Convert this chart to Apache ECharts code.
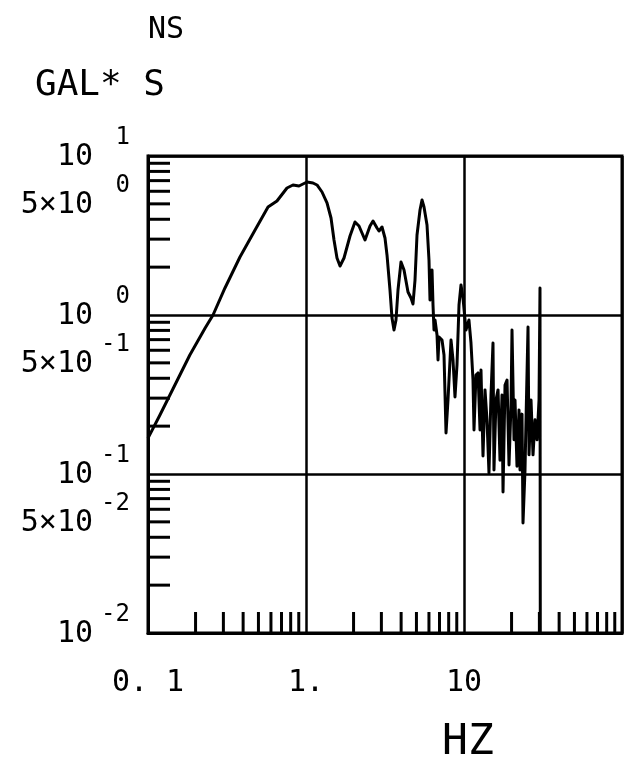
<!DOCTYPE html>
<html>
<head>
<meta charset="utf-8">
<script src="https://cdn.jsdelivr.net/npm/echarts@6/dist/echarts.min.js"></script>
<style>
  html, body { margin: 0; padding: 0; background: #fff; }
  #chart { width: 628px; height: 764px; }
</style>
</head>
<body>
<div id="chart"></div>
<script>
// Fourier amplitude spectrum, NS component (gal*s vs Hz)
const freqHz = [
  0.1, 0.119, 0.148, 0.184, 0.230, 0.258, 0.307, 0.382, 0.476, 0.575,
  0.655, 0.758, 0.827, 0.903, 0.957, 1.015, 1.107, 1.174, 1.263, 1.358,
  1.440, 1.504, 1.571, 1.642, 1.740, 1.899, 2.042, 2.165, 2.363, 2.542,
  2.656, 2.815, 2.897, 3.027, 3.162, 3.256, 3.401, 3.502, 3.606, 3.712,
  3.822, 3.993, 4.172, 4.422, 4.620, 4.756, 4.897, 5.042, 5.267, 5.423,
  5.583, 5.833, 6.004, 6.092, 6.181, 6.275, 6.366, 6.460, 6.555, 6.749,
  6.848, 6.949, 7.258, 7.473, 7.694, 7.920, 8.276, 8.521, 8.770, 9.030,
  9.298, 9.572, 9.856, 10.29, 10.75, 11.07, 11.40, 11.57, 11.91, 12.27,
  12.63, 12.81, 13.19, 13.58, 13.98, 14.39, 14.82, 15.26, 15.48, 15.94,
  16.42, 16.90, 17.40, 17.66, 18.18, 18.72, 19.27, 19.84, 20.13, 20.73,
  21.03, 21.65, 22.29, 22.62, 23.29, 23.63, 24.33, 24.69, 25.42, 25.79,
  26.56, 27.34, 28.15, 28.98, 29.84, 30.27, 30.40
];
const amplitude = [
  0.168, 0.235, 0.363, 0.560, 0.828, 1.0, 1.479, 2.316, 3.424, 4.778,
  5.212, 6.292, 6.572, 6.477, 6.668, 6.864, 6.765, 6.572, 5.937, 5.064,
  4.074, 2.963, 2.283, 2.033, 2.283, 3.139, 3.845, 3.629, 2.963, 3.629,
  3.901, 3.526, 3.376, 3.576, 3.050, 2.385, 1.436, 0.957, 0.805, 0.930,
  1.436, 2.154, 1.919, 1.395, 1.279, 1.173, 1.660, 3.185, 4.575, 5.288,
  4.778, 3.681, 2.218, 1.243, 1.436, 1.919, 1.156, 0.805, 0.930, 0.749,
  0.521, 0.727, 0.696, 0.560, 0.181, 0.292, 0.696, 0.521, 0.305, 0.485,
  1.156, 1.544, 1.279, 0.805, 0.930, 0.667, 0.390, 0.189, 0.419, 0.432,
  0.189, 0.451, 0.130, 0.338, 0.219, 0.1015, 0.314, 0.667, 0.106, 0.292,
  0.338, 0.122, 0.314, 0.077, 0.363, 0.390, 0.114, 0.272, 0.805, 0.164,
  0.292, 0.112, 0.253, 0.106, 0.238, 0.0492, 0.106, 0.219, 0.840, 0.132,
  0.292, 0.132, 0.219, 0.164, 0.292, 1.479, 0.01
];

// Minor tick positions (inside the frame)
const xMinorTicks = [0.2, 0.3, 0.4, 0.5, 0.6, 0.7, 0.8, 0.9,
                     2, 3, 4, 5, 6, 7, 8, 9,
                     20, 30, 40, 50, 60, 70, 80, 90];
const yMinorTicks = [0.02, 0.03, 0.04, 0.05, 0.06, 0.07, 0.08, 0.09,
                     0.2, 0.3, 0.4, 0.5, 0.6, 0.7, 0.8, 0.9,
                     2, 3, 4, 5, 6, 7, 8, 9];

// Tick labels
const yLabelValues = [10, 5, 1, 0.5, 0.1, 0.05, 0.01];
const yLabelBases  = ['10', '5×10', '10', '5×10', '10', '5×10', '10'];
const yLabelExps   = ['1', '0', '0', '-1', '-1', '-2', '-2'];
const xLabelValues = [0.1, 1, 10];
const xLabelTexts  = ['0. 1', '1.', '10'];

const X_MIN = 0.1, X_MAX = 100, Y_MIN = 0.01, Y_MAX = 10;
const FONT = '"DejaVu Sans Mono", "Liberation Mono", monospace';
const INK = '#000';

const chart = echarts.init(document.getElementById('chart'), null, { renderer: 'canvas' });

const spectrum = freqHz.map((f, i) => [f, amplitude[i]]);

chart.setOption({
  animation: false,
  backgroundColor: '#fff',
  grid: {
    left: 148, right: 6, top: 156, bottom: 131,
    show: true, borderColor: INK, borderWidth: 3, backgroundColor: 'transparent'
  },
  title: [
    { text: 'NS', left: 143, top: 10,
      textStyle: { fontFamily: FONT, fontSize: 30, fontWeight: 'normal', color: INK } },
    { text: 'GAL* S', left: 30, top: 63,
      textStyle: { fontFamily: FONT, fontSize: 36, fontWeight: 'normal', color: INK } },
    { text: 'HZ', left: 437, top: 716,
      textStyle: { fontFamily: FONT, fontSize: 43, fontWeight: 'normal', color: INK } }
  ],
  xAxis: {
    type: 'log', logBase: 10, min: X_MIN, max: X_MAX,
    axisLine: { show: true, lineStyle: { color: INK, width: 3 } },
    axisTick: { show: false },
    axisLabel: { show: false },
    splitLine: { show: true, lineStyle: { color: INK, width: 2.5 } }
  },
  yAxis: {
    type: 'log', logBase: 10, min: Y_MIN, max: Y_MAX,
    axisLine: { show: true, lineStyle: { color: INK, width: 3 } },
    axisTick: { show: false },
    axisLabel: { show: false },
    splitLine: { show: true, lineStyle: { color: INK, width: 2.5 } }
  },
  series: [
    {
      // x minor ticks, rising from the bottom frame
      type: 'custom', silent: true, z: 3,
      data: xMinorTicks.map(v => [v, Y_MIN]),
      renderItem: (params, api) => {
        const p = api.coord([api.value(0), api.value(1)]);
        return { type: 'line',
          shape: { x1: p[0], y1: p[1], x2: p[0], y2: p[1] - 21 },
          style: { stroke: INK, lineWidth: 3 } };
      }
    },
    {
      // y minor ticks, pointing right from the left frame
      type: 'custom', silent: true, z: 3,
      data: yMinorTicks.map(v => [X_MIN, v]),
      renderItem: (params, api) => {
        const p = api.coord([api.value(0), api.value(1)]);
        return { type: 'line',
          shape: { x1: p[0], y1: p[1], x2: p[0] + 22, y2: p[1] },
          style: { stroke: INK, lineWidth: 3 } };
      }
    },
    {
      // y labels: mantissa and raised exponent
      type: 'custom', silent: true, clip: false,
      data: yLabelValues.map((v, i) => [X_MIN, v, i]),
      renderItem: (params, api) => {
        const p = api.coord([api.value(0), api.value(1)]);
        const i = api.value(2);
        return { type: 'group', children: [
          { type: 'text', x: p[0] - 55, y: p[1] + 1,
            style: { text: yLabelBases[i], font: '30px ' + FONT, fill: INK,
                     align: 'right', verticalAlign: 'middle' } },
          { type: 'text', x: p[0] - 18, y: p[1] - 18,
            style: { text: yLabelExps[i], font: '24px ' + FONT, fill: INK,
                     align: 'right', verticalAlign: 'middle' } }
        ] };
      }
    },
    {
      // x labels under the axis
      type: 'custom', silent: true, clip: false,
      data: xLabelValues.map((v, i) => [v, Y_MIN, i]),
      renderItem: (params, api) => {
        const p = api.coord([api.value(0), api.value(1)]);
        const i = api.value(2);
        return { type: 'text', x: p[0], y: p[1] + 50,
          style: { text: xLabelTexts[i], font: '30px ' + FONT, fill: INK,
                   align: 'center', verticalAlign: 'middle' } };
      }
    },
    {
      type: 'line', data: spectrum, showSymbol: false, clip: true, z: 4,
      lineStyle: { color: INK, width: 3, join: 'round' },
      itemStyle: { color: INK }
    }
  ]
});
</script>
</body>
</html>
